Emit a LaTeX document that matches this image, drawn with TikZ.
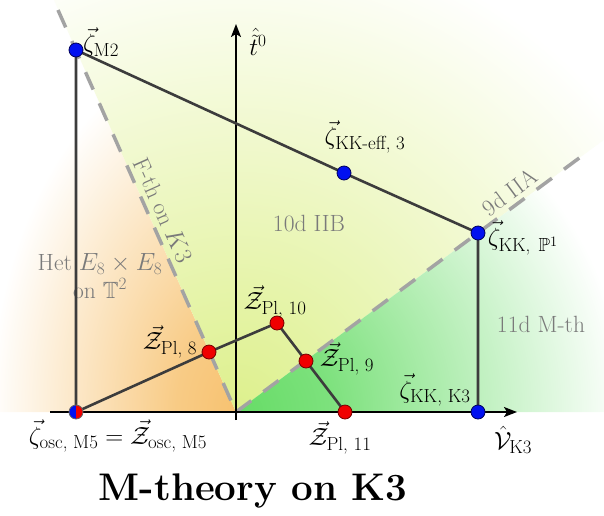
\documentclass[tikz,border=0pt]{standalone}
\usepackage{amsmath,amssymb}
\usetikzlibrary{arrows.meta}
\definecolor{edgegray}{HTML}{3C3C3C}
\definecolor{dashgray}{HTML}{A3A3A3}
\definecolor{labgray}{HTML}{7A7A7A}
\definecolor{orangeS}{HTML}{F7C270}
\definecolor{yellowS}{HTML}{DDF08C}
\definecolor{greenS}{HTML}{66DC66}
\definecolor{dotblue}{HTML}{0010F0}
\definecolor{dotred}{HTML}{F00000}
\pgfdeclareradialshading{fadeorange}{\pgfpointorigin}{color(0bp)=(orangeS); color(60bp)=(orangeS!85!white); color(245bp)=(white); color(700bp)=(white)}
\pgfdeclareradialshading{fadeyellow}{\pgfpointorigin}{color(0bp)=(yellowS); color(480bp)=(white); color(700bp)=(white)}
\pgfdeclareradialshading{fadegreen}{\pgfpointorigin}{color(0bp)=(greenS); color(90bp)=(greenS!85!white); color(370bp)=(white); color(700bp)=(white)}
\begin{document}
\begin{tikzpicture}[x=1pt,y=-1pt,
  edge/.style={draw=edgegray, line width=2.6pt},
  axis/.style={draw=black, line width=1.7pt, -{Stealth[length=13pt,width=10pt,inset=3pt]}},
  dline/.style={draw=dashgray, line width=3.5pt, dash pattern=on 19pt off 15pt},
  bdot/.style={circle, fill=dotblue, draw=black!65!blue, line width=0.8pt, minimum size=14pt, inner sep=0pt},
  rdot/.style={circle, fill=dotred, draw=black!55!red, line width=0.8pt, minimum size=14pt, inner sep=0pt},
  hdot/.style={circle, minimum size=14pt, inner sep=0pt, draw=black!60, line width=0.8pt,
    path picture={\fill[dotblue] (path picture bounding box.south west) rectangle (path picture bounding box.north);
                  \fill[dotred] (path picture bounding box.south) rectangle (path picture bounding box.north east);}},
  mlab/.style={font=\fontsize{27}{31}\selectfont, inner sep=0pt},
  glab/.style={font=\fontsize{23.5}{27.5}\selectfont, text=labgray, inner sep=0pt, align=center},
  shadebox/.style={inner sep=0pt, outer sep=0pt},
]
\useasboundingbox (0,0) rectangle (604,515);
% key points
\coordinate (O) at (236,412);
\coordinate (Ftop) at (58,10);
\coordinate (Aend) at (590,150);
\coordinate (pM2) at (76,50);
\coordinate (pKKeff) at (344,173);
\coordinate (pKKP) at (478,233);
\coordinate (pKKK) at (478,412);
\coordinate (pOsc) at (76,412);
\coordinate (pZ8) at (209,352);
\coordinate (pZ10) at (277,323);
\coordinate (pZ9) at (306,361);
\coordinate (pZ11) at (345,412);
% shaded regions
\begin{scope}
\clip (O) -- (54,0) -- (0,0) -- (0,412) -- cycle;
\node[shadebox, transform shape, yscale=1.5] (shO) at (O) {\pgfuseshading{fadeorange}};
\end{scope}
\begin{scope}
\clip (O) -- (54,0) -- (604,0) -- (604,140) -- cycle;
\node[shadebox] (shY) at (O) {\pgfuseshading{fadeyellow}};
\end{scope}
\begin{scope}
\clip (O) -- (604,140) -- (604,412) -- cycle;
\node[shadebox, transform shape, xscale=1.05] (shG) at (O) {\pgfuseshading{fadegreen}};
\end{scope}
% dashed boundaries
\draw[dline] (Ftop) -- (O);
\draw[dline] (O) -- (Aend);
% region labels
\node[glab, rotate=-66] (fth) at (163,210) {F-th on $K3$};
\node[glab, rotate=36.5] (iia) at (510,192) {9d IIA};
\node[glab] (iib) at (309,224) {10d IIB};
\node[glab] (het) at (100,276) {Het $E_8\times E_8$\\on $\mathbb{T}^2$};
\node[glab] (mth) at (541,324) {11d M-th};
% axes
\coordinate (xs) at (50,412);
\coordinate (xe) at (517,412);
\coordinate (ys) at (236,420);
\coordinate (ye) at (236,24);
\draw[axis] (xs) -- (xe);
\draw[axis] (ys) -- (ye);
% polytope edges
\draw[edge] (pOsc) -- (pM2) -- (pKKeff) -- (pKKP) -- (pKKK);
\draw[edge] (pOsc) -- (pZ8) -- (pZ10) -- (pZ9) -- (pZ11);
% dots
\node[bdot] (M2) at (pM2) {};
\node[bdot] (KKeff) at (pKKeff) {};
\node[bdot] (KKP) at (pKKP) {};
\node[bdot] (KKK) at (pKKK) {};
\node[hdot] (osc) at (pOsc) {};
\node[rdot] (Z8) at (pZ8) {};
\node[rdot] (Z10) at (pZ10) {};
\node[rdot] (Z9) at (pZ9) {};
\node[rdot] (Z11) at (pZ11) {};
% labels
\node[mlab] (lM2) at (101,42) {$\vec\zeta_{\text{M2}}$};
\node[mlab] (lt) at (258,42) {$\hat{\tilde{t}}^0$};
\node[mlab] (lKKeff) at (365,137) {$\vec\zeta_{\text{KK-eff, 3}}$};
\node[mlab] (lKKP) at (523,238) {$\vec\zeta_{\text{KK,}\ \mathbb{P}^1}$};
\node[mlab] (lZ10) at (275,302) {$\vec{\mathcal{Z}}_{\text{Pl, 10}}$};
\node[mlab] (lZ8) at (170,342) {$\vec{\mathcal{Z}}_{\text{Pl, 8}}$};
\node[mlab] (lZ9) at (347,359) {$\vec{\mathcal{Z}}_{\text{Pl, 9}}$};
\node[mlab] (lKKK) at (435,390) {$\vec\zeta_{\text{KK, K3}}$};
\node[mlab] (lZ11) at (340,438) {$\vec{\mathcal{Z}}_{\text{Pl, 11}}$};
\node[mlab] (losc) at (118,436) {$\vec\zeta_{\text{osc, M5}}=\vec{\mathcal{Z}}_{\text{osc, M5}}$};
\node[mlab] (lV) at (513,440) {$\hat{\mathcal{V}}_{\text{K3}}$};
\node[font=\fontsize{38.5}{42}\selectfont\bfseries, inner sep=0pt] (title) at (253,491) {M-theory on K3};
\end{tikzpicture}
\end{document}
